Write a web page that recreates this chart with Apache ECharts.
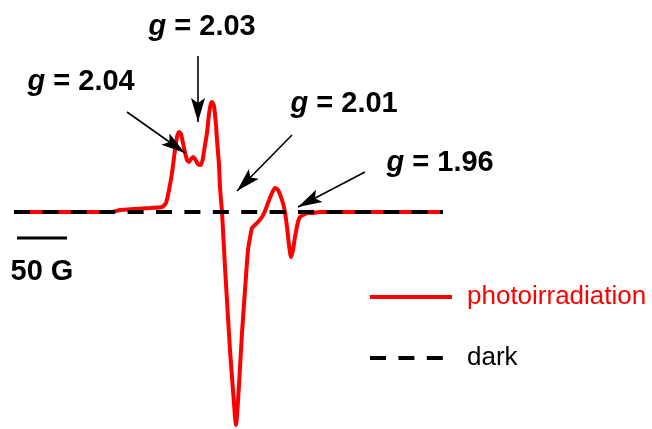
<!DOCTYPE html>
<html>
<head>
<meta charset="utf-8">
<script src="https://cdn.jsdelivr.net/npm/echarts@6/dist/echarts.min.js"></script>
<style>
  html, body { margin: 0; padding: 0; background: #fff; }
  #chart { width: 652px; height: 429px; }
</style>
</head>
<body>
<div id="chart"></div>
<script>
// Magnetic field (G) and EPR signal (a.u.) under photoirradiation
const photoField = [3150, 3196, 3236, 3248, 3256, 3271, 3286, 3298, 3302, 3305, 3308, 3311,
  3313, 3315, 3317, 3320, 3323, 3325, 3327, 3329, 3331, 3334, 3337, 3339, 3341, 3343, 3345,
  3347, 3348, 3350, 3352, 3353, 3355, 3356, 3357, 3358, 3361, 3366, 3369, 3372, 3375, 3378,
  3381, 3384, 3386, 3388, 3391, 3394, 3398, 3401, 3404, 3408, 3411, 3414, 3418, 3421, 3423,
  3425, 3427, 3429, 3431, 3434, 3436, 3439, 3444, 3448, 3456, 3579];
const photoSignal = [0, 0, 0, 0, 2, 3, 4, 5, 9, 22, 39, 62,
  75, 80, 78, 64, 52, 50, 53, 55, 53, 48, 47, 54, 67, 79, 98,
  109, 110, 106, 87, 72, 47, 25, 12, 0, -55, -138, -178, -213, -173, -121,
  -78, -38, -26, -16, -13, -10, -5, 1, 9, 19, 24, 22, 12, 0, -15,
  -33, -45, -38, -25, -10, -5, -3, -1, -1, 0, 0];

// Dark spectrum: flat line over the same sweep
const darkField = [3150, 3579];
const darkSignal = [0, 0];

// 50 G scale bar
const scaleField = [3153, 3203];
const scaleSignal = [-26, -26];
const scaleText = '50 G';

// g-value annotations: label text, label anchor, arrow tail and arrow tip
const gLabels = ['2.04', '2.03', '2.01', '1.96'];
const gLabelAt = [[3163, 130], [3284, 185], [3426, 108], [3522, 49]];
const gArrowFrom = [[3263, 100], [3334, 156], [3428, 77], [3501, 40]];
const gArrowTo = [[3321, 59], [3334, 90], [3373, 21], [3434, 5]];

const FONT = 'Liberation Sans, Arial, Helvetica, sans-serif';
const zip = (xs, ys) => xs.map((x, i) => [x, ys[i]]);

// Barbed arrowhead, tip at the top of the path
const arrowHead = 'path://M0,0L7,24L0,19L-7,24Z';

const chart = echarts.init(document.getElementById('chart'), null, { renderer: 'canvas' });

chart.setOption({
  animation: false,
  backgroundColor: '#ffffff',
  grid: { left: 0, right: 0, top: 0, bottom: 1 },
  xAxis: { type: 'value', min: 3136, max: 3788, show: false },
  yAxis: { type: 'value', min: -216, max: 212, show: false },
  legend: {
    orient: 'vertical',
    left: 368,
    top: 282,
    padding: 0,
    itemWidth: 82,
    itemHeight: 30,
    itemGap: 31,
    selectedMode: false,
    lineStyle: { width: 4 },
    itemStyle: { color: 'rgba(0,0,0,0)', borderWidth: 0, opacity: 0 },
    textStyle: { fontFamily: FONT, fontSize: 26, lineHeight: 30, padding: [0, 0, 0, 10] },
    data: [
      { name: 'photoirradiation', textStyle: { color: '#ff0000' } },
      { name: 'dark', textStyle: { color: '#000000' } }
    ]
  },
  series: [
    {
      name: 'photoirradiation',
      type: 'line',
      data: zip(photoField, photoSignal),
      showSymbol: false,
      symbol: 'none',
      smooth: 0.2,
      lineStyle: { color: '#ff0000', width: 4 },
      itemStyle: { color: '#ff0000' },
      z: 2
    },
    {
      name: 'dark',
      type: 'line',
      data: zip(darkField, darkSignal),
      showSymbol: false,
      symbol: 'none',
      lineStyle: { color: '#000000', width: 4, type: [16, 12.4], cap: 'butt' },
      itemStyle: { color: '#000000' },
      z: 3
    },
    {
      name: 'scale',
      type: 'line',
      data: zip(scaleField, scaleSignal),
      showSymbol: false,
      symbol: 'none',
      silent: true,
      lineStyle: { color: '#000000', width: 3 },
      markPoint: {
        symbol: 'circle',
        symbolSize: 1,
        itemStyle: { color: 'rgba(0,0,0,0)' },
        label: {
          show: true,
          position: 'right',
          distance: 0,
          fontFamily: FONT,
          fontSize: 29,
          fontWeight: 'bold',
          color: '#000',
          formatter: scaleText
        },
        data: [{ coord: [3146, -60] }]
      },
      z: 4
    },
    {
      name: 'annotations',
      type: 'line',
      data: [],
      silent: true,
      markLine: {
        silent: true,
        animation: false,
        symbol: ['none', 'arrow'],
        symbolSize: 14,
        lineStyle: { color: '#000000', width: 1.6, type: 'solid' },
        itemStyle: { color: '#000000' },
        label: { show: false },
        data: gArrowFrom.map((p, i) => [
          { coord: p, symbol: 'none' },
          {
            coord: gArrowTo[i],
            symbol: arrowHead,
            symbolSize: [14, 24],
            symbolOffset: [0, 12],
            itemStyle: { color: '#000000' }
          }
        ])
      },
      markPoint: {
        symbol: 'circle',
        symbolSize: 1,
        itemStyle: { color: 'rgba(0,0,0,0)' },
        label: {
          show: true,
          position: 'right',
          distance: 0,
          color: '#000',
          rich: {
            i: { fontFamily: FONT, fontSize: 29, fontWeight: 'bold', fontStyle: 'italic', color: '#000' },
            t: { fontFamily: FONT, fontSize: 29, fontWeight: 'bold', color: '#000' }
          }
        },
        data: gLabels.map((g, i) => ({
          coord: gLabelAt[i],
          label: { formatter: '{i|g}{t| = ' + g + '}' }
        }))
      },
      z: 5
    }
  ]
});
</script>
</body>
</html>
